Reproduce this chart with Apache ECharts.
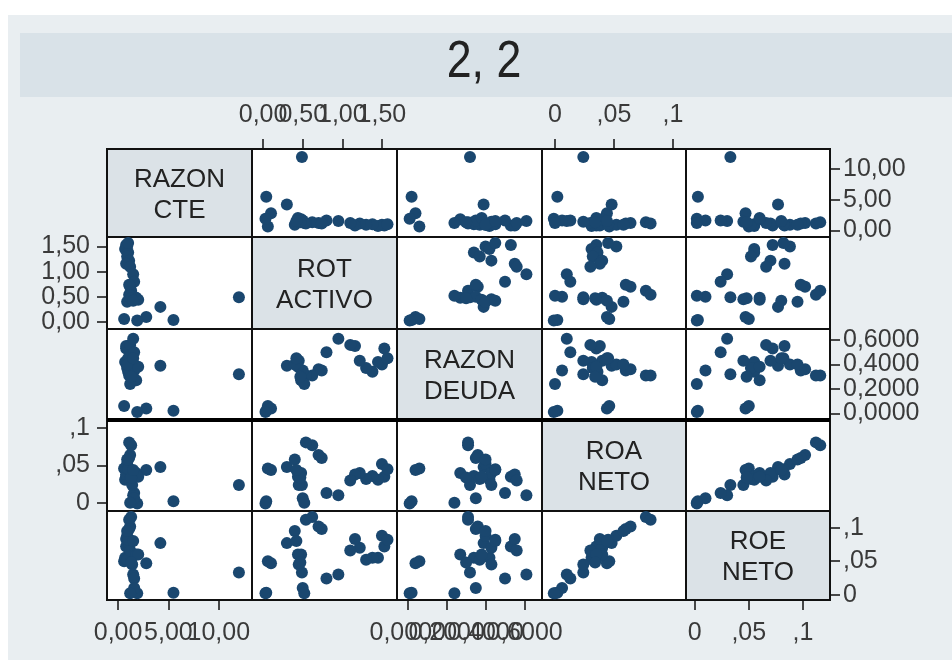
<!DOCTYPE html>
<html>
<head>
<meta charset="utf-8">
<script src="https://cdn.jsdelivr.net/npm/echarts@6/dist/echarts.min.js"></script>
<style>
html, body { margin: 0; padding: 0; background: #fff; }
#wrap { position: relative; width: 952px; height: 660px; overflow: hidden; }
#bg { position: absolute; left: 8px; top: 15px; right: 0; bottom: 0; background: #e9eef1; }
#band { position: absolute; left: 20px; top: 33px; width: 932px; height: 64px; background: #d9e2e8; }
#chart { position: absolute; left: 0; top: 0; width: 952px; height: 660px; }
</style>
</head>
<body>
<div id="wrap">
  <div id="bg"></div>
  <div id="band"></div>
  <div id="chart"></div>
</div>
<script>
// variables of the matrix (one entry per observation)
var varNames = ['RAZON\nCTE', 'ROT\nACTIVO', 'RAZON\nDEUDA', 'ROA\nNETO', 'ROE\nNETO'];
var razonCte   = [12.0, 5.5, 0.6, 2.8, 1.9, 4.2, 0.8, 0.9, 0.7, 1.0, 0.9, 1.1, 0.8, 1.2, 1.0, 1.5, 1.6, 1.2, 1.3, 1.1, 1.1, 1.4, 1.6, 1.8, 2.0, 1.2, 0.9, 1.3, 1.5];
var rotActivo  = [0.49, 0.04, 0.06, 0.10, 0.03, 0.30, 1.53, 1.50, 1.45, 1.38, 1.30, 1.22, 1.16, 1.10, 1.57, 0.95, 0.80, 0.70, 0.62, 0.54, 0.74, 0.45, 0.50, 0.48, 0.44, 0.52, 0.40, 0.47, 0.42];
var razonDeuda = [0.32, 0.02, 0.06, 0.04, 0.01, 0.39, 0.53, 0.40, 0.42, 0.34, 0.37, 0.43, 0.55, 0.56, 0.45, 0.61, 0.50, 0.36, 0.31, 0.31, 0.35, 0.43, 0.35, 0.27, 0.38, 0.24, 0.40, 0.30, 0.45];
var roaNeto    = [0.024, 0.002, 0.046, 0.044, -0.001, 0.048, 0.035, 0.052, 0.031, 0.036, 0.032, 0.040, 0.038, 0.030, 0.045, 0.010, 0.013, 0.064, 0.077, 0.081, 0.060, 0.024, 0.006, 0.040, 0.035, 0.000, 0.058, 0.034, 0.044];
var roeNeto    = [0.033, 0.003, 0.050, 0.047, 0.002, 0.077, 0.072, 0.088, 0.055, 0.055, 0.052, 0.070, 0.083, 0.066, 0.082, 0.030, 0.024, 0.102, 0.116, 0.112, 0.098, 0.045, 0.010, 0.060, 0.060, 0.002, 0.095, 0.048, 0.080];

// axis scales and tick labels (Stata style, decimal comma)
var axisRanges = [[-1.1, 13.3], [-0.14, 1.69], [-0.055, 0.69], [-0.011, 0.111], [-0.008, 0.125]];
var tickValues = [[0, 5, 10], [0, 0.5, 1, 1.5], [0, 0.2, 0.4, 0.6], [0, 0.05, 0.1], [0, 0.05, 0.1]];
var tickLabels = [
    ['0,00', '5,00', '10,00'],
    ['0,00', '0,50', '1,00', '1,50'],
    ['0,0000', '0,2000', '0,4000', '0,6000'],
    ['0', ',05', ',1'],
    ['0', ',05', ',1']
];

var variables = [razonCte, rotActivo, razonDeuda, roaNeto, roeNeto];
var colEdges = [107, 252, 397, 542, 686, 830];
var rowEdges = [149, 237, 329, 420, 511, 600];
var fontMain = "'Liberation Sans', Arial, sans-serif";

function labelFor(v, val) {
    for (var t = 0; t < tickValues[v].length; t++) {
        if (Math.abs(tickValues[v][t] - val) < 1e-9) return tickLabels[v][t];
    }
    return '';
}

// ticks shown on an axis: parity -1 = all, 0 = even ones, 1 = odd ones
function pickTicks(v, parity) {
    return tickValues[v].filter(function (t, idx) { return parity < 0 || idx % 2 === parity; });
}

function makeAxis(v, k, position, show, margin, parity) {
    var ticks = pickTicks(v, parity);
    return {
        gridIndex: k,
        type: 'value',
        min: axisRanges[v][0],
        max: axisRanges[v][1],
        position: position,
        offset: 0,
        axisLine: { show: false, onZero: false },
        splitLine: { show: false },
        axisTick: {
            show: show,
            customValues: ticks,
            length: 10,
            lineStyle: { color: '#111', width: 1.5 }
        },
        axisLabel: {
            show: show,
            customValues: ticks,
            hideOverlap: false,
            showMinLabel: true,
            showMaxLabel: true,
            formatter: function (val) { return labelFor(v, val); },
            fontFamily: fontMain,
            fontSize: 25,
            color: '#3a3a3a',
            margin: margin
        }
    };
}

var grids = [], xAxes = [], yAxes = [], series = [], graphics = [];
var extraX = [], extraY = [];

for (var i = 0; i < 5; i++) {
    for (var j = 0; j < 5; j++) {
        var k = grids.length;
        grids.push({
            left: colEdges[j],
            top: rowEdges[i],
            width: colEdges[j + 1] - colEdges[j],
            height: rowEdges[i + 1] - rowEdges[i],
            show: true,
            backgroundColor: i === j ? '#dbe2e7' : '#ffffff',
            borderColor: '#111',
            borderWidth: 2,
            outerBoundsMode: 'none'
        });
        var showTop = i === 0 && (j === 1 || j === 3);
        var showBottom = i === 4 && j % 2 === 0;
        var showLeft = j === 0 && (i === 1 || i === 3);
        var showRight = j === 4 && i % 2 === 0;
        var xPos = showTop ? 'top' : 'bottom';
        var yPos = showRight ? 'right' : 'left';
        var yMargin = showRight ? 13 : 17;
        var xShow = showTop || showBottom;
        var yShow = showLeft || showRight;
        // labelled axes are split in two so neighbouring labels may overlap as in Stata
        xAxes.push(makeAxis(j, k, xPos, xShow, 21, xShow ? 0 : -1));
        if (xShow) extraX.push(makeAxis(j, k, xPos, true, 21, 1));
        yAxes.push(makeAxis(i, k, yPos, yShow, yMargin, yShow ? 0 : -1));
        if (yShow) extraY.push(makeAxis(i, k, yPos, true, yMargin, 1));

        if (i === j) {
            graphics.push({
                type: 'text',
                x: (colEdges[j] + colEdges[j + 1]) / 2,
                y: (rowEdges[i] + rowEdges[i + 1]) / 2 + 2,
                style: {
                    text: varNames[i],
                    fontFamily: fontMain,
                    fontSize: 26,
                    lineHeight: 31,
                    fill: '#222',
                    align: 'center',
                    verticalAlign: 'middle'
                },
                z: 50
            });
        } else {
            var pts = [];
            for (var n = 0; n < razonCte.length; n++) {
                pts.push([variables[j][n], variables[i][n]]);
            }
            series.push({
                type: 'scatter',
                xAxisIndex: k,
                yAxisIndex: k,
                data: pts,
                symbol: 'circle',
                symbolSize: 12,
                clip: false,
                itemStyle: { color: '#1a476f', opacity: 1 },
                emphasis: { disabled: true }
            });
        }
    }
}

// title (condensed by scaling) and the heavy separator under RAZON DEUDA
graphics.push({
    type: 'text',
    x: 484,
    y: 63,
    scaleX: 0.86,
    style: {
        text: '2, 2',
        fontFamily: fontMain,
        fontSize: 52,
        fill: '#222',
        align: 'center',
        verticalAlign: 'middle'
    }
});
graphics.push({
    type: 'line',
    shape: { x1: colEdges[0], y1: rowEdges[3], x2: colEdges[5], y2: rowEdges[3] },
    style: { stroke: '#000', lineWidth: 4 },
    z: 100
});

var chart = echarts.init(document.getElementById('chart'), null, { renderer: 'canvas' });
var option = {
    animation: false,
    backgroundColor: 'transparent',
    grid: grids,
    xAxis: xAxes.concat(extraX),
    yAxis: yAxes.concat(extraY),
    series: series,
    graphic: graphics
};
chart.setOption(option);
</script>
</body>
</html>
